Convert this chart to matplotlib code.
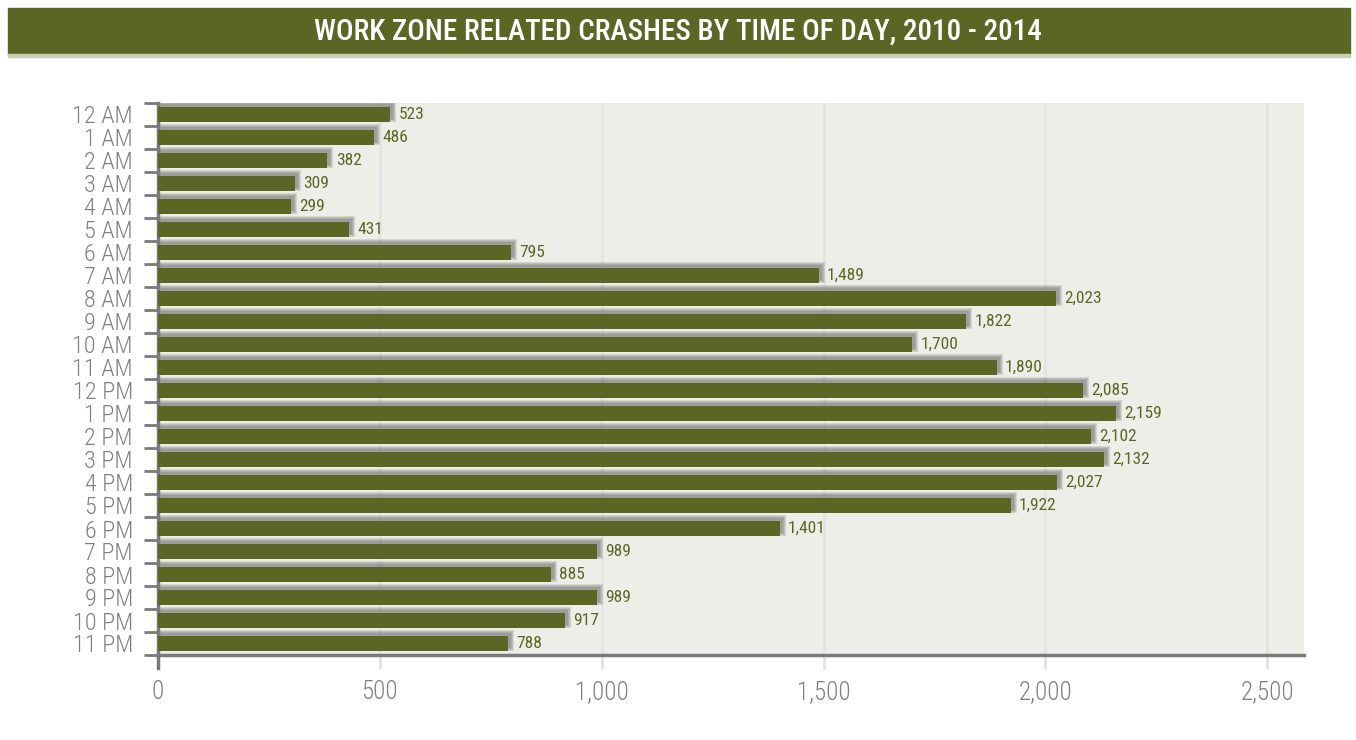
import numpy as np
import matplotlib.pyplot as plt
from matplotlib.patches import Rectangle

hours = ['12 AM', '1 AM', '2 AM', '3 AM', '4 AM', '5 AM', '6 AM', '7 AM', '8 AM',
         '9 AM', '10 AM', '11 AM', '12 PM', '1 PM', '2 PM', '3 PM', '4 PM', '5 PM',
         '6 PM', '7 PM', '8 PM', '9 PM', '10 PM', '11 PM']
crashes = [523, 486, 382, 309, 299, 431, 795, 1489, 2023, 1822, 1700, 1890,
           2085, 2159, 2102, 2132, 2027, 1922, 1401, 989, 885, 989, 917, 788]
xticks = [0, 500, 1000, 1500, 2000, 2500]

olive = '#5a6623'
gray = '#808080'
plt.rcParams['font.family'] = ['Roboto Condensed', 'DejaVu Sans']

fig = plt.figure(figsize=(13.56, 7.4), dpi=100)
W, H = 1356, 740

# title banner
fig.patches.append(Rectangle((8 / W, 1 - 54 / H), 1342 / W, 46 / H,
                             transform=fig.transFigure, color=olive, zorder=0))
fig.patches.append(Rectangle((8 / W, 1 - 57 / H), 1342 / W, 3 / H,
                             transform=fig.transFigure, color='#c9cfb4', zorder=0))
fig.text(0.5, 1 - 32 / H, 'WORK ZONE RELATED CRASHES BY TIME OF DAY, 2010 - 2014',
         color='white', fontsize=21, fontweight='medium', ha='center', va='center')

ax = fig.add_axes([158 / W, 85 / H, 1146 / W, 552 / H])
ax.set_facecolor('#eeeee8')
ax.set_xlim(0, 2583)
ax.set_ylim(len(hours) - 0.5, -0.5)

px = 500 / 222.0  # data units per pixel along x
py = 1 / 23.0     # category units per pixel along y
y = np.arange(len(hours))
h = 0.65

# soft shadow, up and to the right of each bar
for k in range(4):
    ax.barh(y - 3 * py, np.array(crashes) + (3 + k) * px, height=h + 2 * k * py,
            color='#555555', alpha=0.17, zorder=2, linewidth=0)
ax.barh(y, crashes, height=h, color=olive, zorder=3, linewidth=0)

for yi, v in zip(y, crashes):
    ax.annotate(f'{v:,}', (v, yi), xytext=(6, 0), textcoords='offset points',
                color=olive, fontsize=12.5, va='center', ha='left', zorder=4)

ax.set_xticks(xticks)
ax.set_xticklabels([f'{t:,}' for t in xticks], color=gray, fontsize=18,
                   fontweight='light')
ax.tick_params(axis='x', length=10, width=2, color='#e3e3e3', pad=8)
ax.grid(axis='x', color='#e3e3e3', linewidth=2, zorder=1)
ax.set_axisbelow(True)

ax.set_yticks(y)
ax.set_yticklabels(hours, color=gray, fontsize=17.5, fontweight='light')
ax.set_yticks(np.arange(len(hours) + 1) - 0.5, minor=True)
ax.tick_params(axis='y', which='major', length=0, pad=18)
ax.tick_params(axis='y', which='minor', length=10, width=2, color='#7a7a7a')

for s in ['top', 'right']:
    ax.spines[s].set_visible(False)
for s in ['left', 'bottom']:
    ax.spines[s].set_color('#7a7a7a')
    ax.spines[s].set_linewidth(2.5)
ax.plot([0, 0], [len(hours) - 0.5, len(hours) - 0.5 + 13 * py], color='#7a7a7a',
        linewidth=2.5, clip_on=False, zorder=5)

fig.savefig('out.png', dpi=100)
